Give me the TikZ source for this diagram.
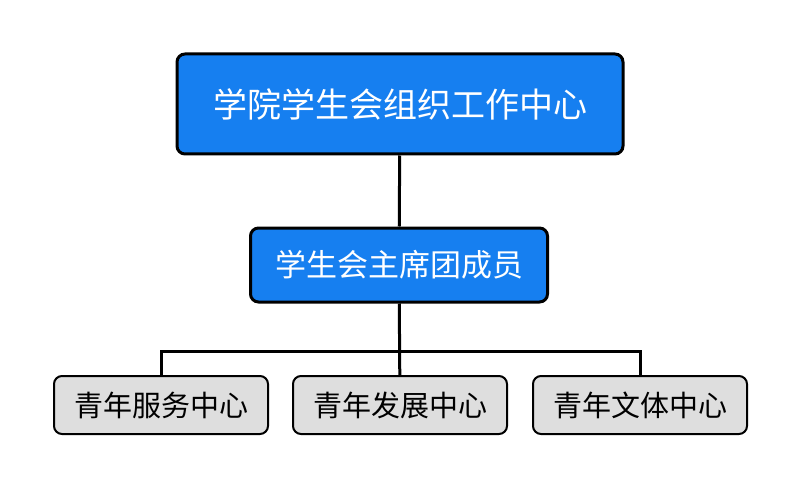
\documentclass[tikz,border=0pt]{standalone}
\usepackage{fontspec}
\newfontfamily\cjk{Noto Sans CJK SC}
\definecolor{boxblue}{RGB}{22,127,240}
\definecolor{boxgrey}{RGB}{222,222,222}

\begin{document}
\begin{tikzpicture}[x=1pt,y=-1pt]

\tikzset{bluebox/.style = {draw, line width=3pt, rounded corners=8pt, fill=boxblue, text=white, inner sep=0pt}}
\tikzset{greybox/.style = {draw, line width=2pt, rounded corners=8pt, fill=boxgrey, text=black, inner sep=0pt,
  minimum width=214pt, minimum height=58pt, font=\cjk\fontsize{29}{34}\selectfont}}
\tikzset{link/.style = {line width=3pt}}
\useasboundingbox (0,0) rectangle (799,489);
%nodes
\node[bluebox, minimum width=446pt, minimum height=100pt, font=\cjk\fontsize{34}{40}\selectfont] (top) at (400,104) {学院学生会组织工作中心};
\node[bluebox, minimum width=297pt, minimum height=74pt, font=\cjk\fontsize{31}{36}\selectfont] (chair) at (399,265) {学生会主席团成员};
\node[greybox] (service) at (161,405) {青年服务中心};
\node[greybox] (develop) at (400,405) {青年发展中心};
\node[greybox] (culture) at (640,405) {青年文体中心};
\coordinate (split) at (400,351);
%edges
\draw [link] (top) -- (chair);
\draw [link] (chair) -- (develop);
\draw [link] (service) |- (split) -| (culture);

\end{tikzpicture}
\end{document}
